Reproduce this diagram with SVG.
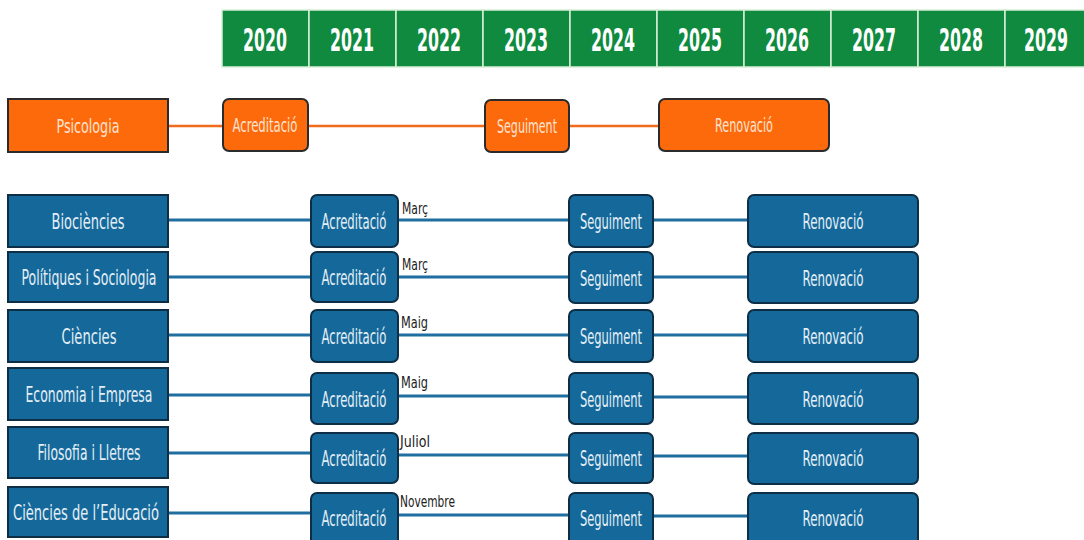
<svg xmlns="http://www.w3.org/2000/svg" width="1084" height="540" viewBox="0 0 1084 540">
<style>
  text { font-family: "Liberation Sans Narrow", "DejaVu Sans Condensed", "Liberation Sans", sans-serif; }
  .yr { fill: #0f8a3e; stroke: #d8efd8; stroke-width: 1.5; }
  .yt { fill: #ffffff; font-size: 32px; font-weight: bold; text-anchor: middle; }
  .ob { fill: #fd6a0c; stroke: #2b2b2b; stroke-width: 2; }
  .ot { fill: #fde3d0; font-size: 20px; text-anchor: middle; }
  .bb { fill: #15699a; stroke: #0e2e45; stroke-width: 2; }
  .bt { fill: #e4eef6; font-size: 21px; text-anchor: middle; }
  .ol { stroke: #f26a1b; stroke-width: 2.5; fill: none; }
  .bl { stroke: #1f6e9f; stroke-width: 3; fill: none; }
  .mt { fill: #222222; font-size: 15px; }
</style>

<g id="years">
  <rect class="yr" x="222" y="10" width="87" height="57"/>
  <rect class="yr" x="309" y="10" width="87" height="57"/>
  <rect class="yr" x="396" y="10" width="87" height="57"/>
  <rect class="yr" x="483" y="10" width="87" height="57"/>
  <rect class="yr" x="570" y="10" width="87" height="57"/>
  <rect class="yr" x="657" y="10" width="87" height="57"/>
  <rect class="yr" x="744" y="10" width="87" height="57"/>
  <rect class="yr" x="831" y="10" width="87" height="57"/>
  <rect class="yr" x="918" y="10" width="87" height="57"/>
  <rect class="yr" x="1005" y="10" width="90" height="57"/>
  <text class="yt" x="265" y="51" textLength="44" lengthAdjust="spacingAndGlyphs">2020</text>
  <text class="yt" x="352" y="51" textLength="44" lengthAdjust="spacingAndGlyphs">2021</text>
  <text class="yt" x="439" y="51" textLength="44" lengthAdjust="spacingAndGlyphs">2022</text>
  <text class="yt" x="526" y="51" textLength="44" lengthAdjust="spacingAndGlyphs">2023</text>
  <text class="yt" x="613" y="51" textLength="44" lengthAdjust="spacingAndGlyphs">2024</text>
  <text class="yt" x="700" y="51" textLength="44" lengthAdjust="spacingAndGlyphs">2025</text>
  <text class="yt" x="787" y="51" textLength="44" lengthAdjust="spacingAndGlyphs">2026</text>
  <text class="yt" x="874" y="51" textLength="44" lengthAdjust="spacingAndGlyphs">2027</text>
  <text class="yt" x="961" y="51" textLength="44" lengthAdjust="spacingAndGlyphs">2028</text>
  <text class="yt" x="1046" y="51" textLength="44" lengthAdjust="spacingAndGlyphs">2029</text>
</g>

<g id="connectors">
  <line class="ol" x1="168" y1="126" x2="223" y2="126"/>
  <line class="ol" x1="308" y1="126" x2="485" y2="126"/>
  <line class="ol" x1="569" y1="126" x2="659" y2="126"/>

  <line class="bl" x1="168" y1="220" x2="311" y2="220"/>
  <line class="bl" x1="398" y1="220" x2="569" y2="220"/>
  <line class="bl" x1="653" y1="220" x2="748" y2="220"/>

  <line class="bl" x1="168" y1="277" x2="311" y2="277"/>
  <line class="bl" x1="398" y1="277" x2="569" y2="277"/>
  <line class="bl" x1="653" y1="277" x2="748" y2="277"/>

  <line class="bl" x1="168" y1="335" x2="311" y2="335"/>
  <line class="bl" x1="398" y1="335" x2="569" y2="335"/>
  <line class="bl" x1="653" y1="335" x2="748" y2="335"/>

  <line class="bl" x1="168" y1="395" x2="311" y2="395"/>
  <line class="bl" x1="398" y1="396" x2="569" y2="396"/>
  <line class="bl" x1="653" y1="397" x2="748" y2="397"/>

  <line class="bl" x1="168" y1="453" x2="311" y2="453"/>
  <line class="bl" x1="398" y1="455" x2="569" y2="455"/>
  <line class="bl" x1="653" y1="456" x2="748" y2="456"/>

  <line class="bl" x1="168" y1="513" x2="311" y2="513"/>
  <line class="bl" x1="398" y1="515" x2="569" y2="515"/>
  <line class="bl" x1="653" y1="516" x2="748" y2="516"/>
</g>

<g id="psicologia">
  <rect class="ob" x="8" y="99" width="160" height="53"/>
  <text class="ot" x="88" y="133" textLength="63" lengthAdjust="spacingAndGlyphs">Psicologia</text>
</g>
<g id="psi-acreditacio">
  <rect class="ob" x="223" y="99" width="85" height="52" rx="6"/>
  <text class="ot" x="265" y="132" textLength="65" lengthAdjust="spacingAndGlyphs">Acreditació</text>
</g>
<g id="psi-seguiment">
  <rect class="ob" x="485" y="100" width="84" height="52" rx="6"/>
  <text class="ot" x="527" y="133" textLength="60" lengthAdjust="spacingAndGlyphs">Seguiment</text>
</g>
<g id="psi-renovacio">
  <rect class="ob" x="659" y="99" width="170" height="52" rx="6"/>
  <text class="ot" x="744" y="132" textLength="58" lengthAdjust="spacingAndGlyphs">Renovació</text>
</g>

<g id="biociencies">
  <rect class="bb" x="8" y="195" width="160" height="52"/>
  <text class="bt" x="88" y="229" textLength="73" lengthAdjust="spacingAndGlyphs">Biociències</text>
</g>
<g id="bio-acreditacio">
  <rect class="bb" x="311" y="195" width="87" height="52" rx="6"/>
  <text class="bt" x="354" y="229" textLength="65" lengthAdjust="spacingAndGlyphs">Acreditació</text>
  <text class="mt" x="402" y="214" textLength="26" lengthAdjust="spacingAndGlyphs">Març</text>
</g>
<g id="bio-seguiment">
  <rect class="bb" x="569" y="195" width="84" height="52" rx="6"/>
  <text class="bt" x="611" y="229" textLength="62" lengthAdjust="spacingAndGlyphs">Seguiment</text>
</g>
<g id="bio-renovacio">
  <rect class="bb" x="748" y="195" width="170" height="52" rx="6"/>
  <text class="bt" x="833" y="229" textLength="61" lengthAdjust="spacingAndGlyphs">Renovació</text>
</g>

<g id="politiques">
  <rect class="bb" x="8" y="252" width="160" height="50"/>
  <text class="bt" x="89" y="285" textLength="135" lengthAdjust="spacingAndGlyphs">Polítiques i Sociologia</text>
</g>
<g id="pol-acreditacio">
  <rect class="bb" x="311" y="252" width="87" height="50" rx="6"/>
  <text class="bt" x="354" y="285" textLength="65" lengthAdjust="spacingAndGlyphs">Acreditació</text>
  <text class="mt" x="402" y="270" textLength="26" lengthAdjust="spacingAndGlyphs">Març</text>
</g>
<g id="pol-seguiment">
  <rect class="bb" x="569" y="252" width="84" height="51" rx="6"/>
  <text class="bt" x="611" y="286" textLength="62" lengthAdjust="spacingAndGlyphs">Seguiment</text>
</g>
<g id="pol-renovacio">
  <rect class="bb" x="748" y="252" width="170" height="51" rx="6"/>
  <text class="bt" x="833" y="286" textLength="61" lengthAdjust="spacingAndGlyphs">Renovació</text>
</g>

<g id="ciencies">
  <rect class="bb" x="8" y="310" width="160" height="52"/>
  <text class="bt" x="89" y="344" textLength="55" lengthAdjust="spacingAndGlyphs">Ciències</text>
</g>
<g id="cie-acreditacio">
  <rect class="bb" x="311" y="310" width="87" height="52" rx="6"/>
  <text class="bt" x="354" y="344" textLength="65" lengthAdjust="spacingAndGlyphs">Acreditació</text>
  <text class="mt" x="401" y="328" textLength="27" lengthAdjust="spacingAndGlyphs">Maig</text>
</g>
<g id="cie-seguiment">
  <rect class="bb" x="569" y="310" width="84" height="52" rx="6"/>
  <text class="bt" x="611" y="344" textLength="62" lengthAdjust="spacingAndGlyphs">Seguiment</text>
</g>
<g id="cie-renovacio">
  <rect class="bb" x="748" y="310" width="170" height="52" rx="6"/>
  <text class="bt" x="833" y="344" textLength="61" lengthAdjust="spacingAndGlyphs">Renovació</text>
</g>

<g id="economia">
  <rect class="bb" x="8" y="368" width="160" height="52"/>
  <text class="bt" x="89" y="402" textLength="127" lengthAdjust="spacingAndGlyphs">Economia i Empresa</text>
</g>
<g id="eco-acreditacio">
  <rect class="bb" x="311" y="373" width="87" height="51" rx="6"/>
  <text class="bt" x="354" y="407" textLength="65" lengthAdjust="spacingAndGlyphs">Acreditació</text>
  <text class="mt" x="401" y="388" textLength="27" lengthAdjust="spacingAndGlyphs">Maig</text>
</g>
<g id="eco-seguiment">
  <rect class="bb" x="569" y="373" width="84" height="51" rx="6"/>
  <text class="bt" x="611" y="407" textLength="62" lengthAdjust="spacingAndGlyphs">Seguiment</text>
</g>
<g id="eco-renovacio">
  <rect class="bb" x="748" y="373" width="170" height="51" rx="6"/>
  <text class="bt" x="833" y="407" textLength="61" lengthAdjust="spacingAndGlyphs">Renovació</text>
</g>

<g id="filosofia">
  <rect class="bb" x="8" y="427" width="160" height="51"/>
  <text class="bt" x="89" y="460" textLength="103" lengthAdjust="spacingAndGlyphs">Filosofia i Lletres</text>
</g>
<g id="fil-acreditacio">
  <rect class="bb" x="311" y="433" width="87" height="50" rx="6"/>
  <text class="bt" x="354" y="466" textLength="65" lengthAdjust="spacingAndGlyphs">Acreditació</text>
  <text class="mt" x="400" y="447" textLength="30" lengthAdjust="spacingAndGlyphs">Juliol</text>
</g>
<g id="fil-seguiment">
  <rect class="bb" x="569" y="433" width="84" height="50" rx="6"/>
  <text class="bt" x="611" y="466" textLength="62" lengthAdjust="spacingAndGlyphs">Seguiment</text>
</g>
<g id="fil-renovacio">
  <rect class="bb" x="748" y="433" width="170" height="51" rx="6"/>
  <text class="bt" x="833" y="466" textLength="61" lengthAdjust="spacingAndGlyphs">Renovació</text>
</g>

<g id="educacio">
  <rect class="bb" x="8" y="487" width="160" height="50"/>
  <text class="bt" x="86" y="520" textLength="146" lengthAdjust="spacingAndGlyphs">Ciències de l’Educació</text>
</g>
<g id="edu-acreditacio">
  <rect class="bb" x="311" y="493" width="87" height="52" rx="6"/>
  <text class="bt" x="354" y="526" textLength="65" lengthAdjust="spacingAndGlyphs">Acreditació</text>
  <text class="mt" x="400" y="507" textLength="55" lengthAdjust="spacingAndGlyphs">Novembre</text>
</g>
<g id="edu-seguiment">
  <rect class="bb" x="569" y="493" width="84" height="52" rx="6"/>
  <text class="bt" x="611" y="526" textLength="62" lengthAdjust="spacingAndGlyphs">Seguiment</text>
</g>
<g id="edu-renovacio">
  <rect class="bb" x="748" y="493" width="170" height="52" rx="6"/>
  <text class="bt" x="833" y="526" textLength="61" lengthAdjust="spacingAndGlyphs">Renovació</text>
</g>
</svg>
